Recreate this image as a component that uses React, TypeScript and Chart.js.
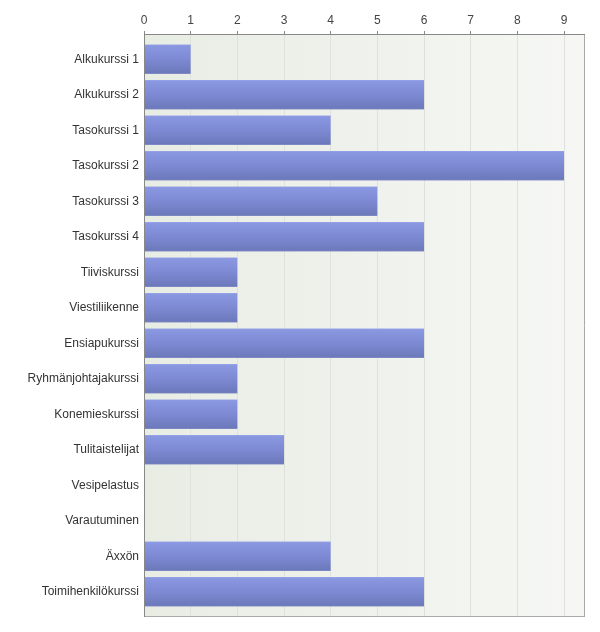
import React, { useEffect, useRef } from "react";
import { Chart, registerables } from "chart.js";

Chart.register(...registerables);

const categories: string[] = [
  "Alkukurssi 1",
  "Alkukurssi 2",
  "Tasokurssi 1",
  "Tasokurssi 2",
  "Tasokurssi 3",
  "Tasokurssi 4",
  "Tiiviskurssi",
  "Viestiliikenne",
  "Ensiapukurssi",
  "Ryhmänjohtajakurssi",
  "Konemieskurssi",
  "Tulitaistelijat",
  "Vesipelastus",
  "Varautuminen",
  "Äxxön",
  "Toimihenkilökurssi",
];

const counts: number[] = [1, 6, 4, 9, 5, 6, 2, 2, 6, 2, 2, 3, 0, 0, 4, 6];

const xTicks: number[] = [0, 1, 2, 3, 4, 5, 6, 7, 8, 9];

const FONT = "'Liberation Sans', Arial, sans-serif";

const bgPlugin = {
  id: "bgPlugin",
  beforeDraw(chart: any) {
    const { ctx, chartArea } = chart;
    const { left, top, right, bottom } = chartArea;
    const g = ctx.createLinearGradient(left, 0, right, 0);
    g.addColorStop(0, "#e8ede4");
    g.addColorStop(1, "#f6f7f4");
    ctx.save();
    ctx.fillStyle = g;
    ctx.fillRect(left, top, right - left, bottom - top);
    ctx.restore();
  },
  afterDraw(chart: any) {
    const { ctx, chartArea } = chart;
    const { left, top, right, bottom } = chartArea;
    ctx.save();
    ctx.strokeStyle = "#a8aaa6";
    ctx.lineWidth = 1;
    ctx.beginPath();
    ctx.moveTo(right - 0.5, top);
    ctx.lineTo(right - 0.5, bottom);
    ctx.moveTo(left, bottom - 0.5);
    ctx.lineTo(right, bottom - 0.5);
    ctx.stroke();
    ctx.strokeStyle = "#888888";
    ctx.beginPath();
    ctx.moveTo(left, top + 0.5);
    ctx.lineTo(right, top + 0.5);
    ctx.moveTo(left + 0.5, top);
    ctx.lineTo(left + 0.5, bottom);
    ctx.stroke();
    ctx.restore();
  },
};

export default function App() {
  const ref = useRef<HTMLCanvasElement | null>(null);

  useEffect(() => {
    if (!ref.current) return;
    const barColor = (c: any) => {
      const chart = c.chart;
      const ys = chart.scales && chart.scales.y;
      if (!ys || c.type !== "data") return "#7a87cc";
      const center = ys.getPixelForValue(c.index);
      const pitch = Math.abs(ys.getPixelForValue(1) - ys.getPixelForValue(0));
      if (!isFinite(center) || !isFinite(pitch) || pitch <= 0) return "#7a87cc";
      const h = pitch * 0.83;
      const g = chart.ctx.createLinearGradient(0, center - h / 2, 0, center + h / 2);
      g.addColorStop(0, "#9ba6ea");
      g.addColorStop(0.04, "#8a97e1");
      g.addColorStop(0.5, "#7d8ad3");
      g.addColorStop(0.96, "#6c79bb");
      g.addColorStop(1, "#8a93c8");
      return g;
    };
    const chart = new Chart(ref.current, {
      type: "bar",
      data: {
        datasets: [
          {
            data: counts.map((v, i) => ({ x: v, y: i })),
            backgroundColor: barColor,
            borderWidth: 0,
            barPercentage: 0.83,
            categoryPercentage: 1,
          },
        ],
      },
      options: {
        indexAxis: "y",
        animation: false,
        responsive: false,
        layout: { padding: { left: 0, top: 0, right: 15, bottom: 15 } },
        plugins: { legend: { display: false }, tooltip: { enabled: false } },
        scales: {
          x: {
            type: "linear",
            position: "top",
            min: 0,
            max: 9.45,
            offset: false,
            afterBuildTicks: (s: any) => {
              s.ticks = xTicks.map((v) => ({ value: v }));
            },
            afterFit: (s: any) => {
              s.height = 34;
            },
            grid: {
              color: "#dfe2dc",
              tickLength: 3,
              tickColor: "#888888",
              drawOnChartArea: true,
              offset: false,
            },
            border: { display: false },
            ticks: {
              color: "#444444",
              font: { family: FONT, size: 12 },
              padding: 3,
              maxRotation: 0,
            },
          },
          y: {
            type: "linear",
            reverse: true,
            min: -0.71,
            max: 15.71,
            offset: false,
            afterBuildTicks: (s: any) => {
              s.ticks = categories.map((_, i) => ({ value: i }));
            },
            afterFit: (s: any) => {
              s.width = 144;
            },
            grid: { display: false, drawTicks: false, offset: false },
            border: { display: false },
            ticks: {
              color: "#333333",
              font: { family: FONT, size: 12 },
              padding: 5,
              autoSkip: false,
              callback: (v: any) => categories[Math.round(Number(v))] ?? "",
            },
          },
        },
      },
      plugins: [bgPlugin],
    });
    chart.update();
    return () => chart.destroy();
  }, []);

  return (
    <div style={{ position: "absolute", left: 0, top: 0, width: 600, height: 632, background: "#ffffff" }}>
      <canvas ref={ref} width={600} height={632} />
    </div>
  );
}
